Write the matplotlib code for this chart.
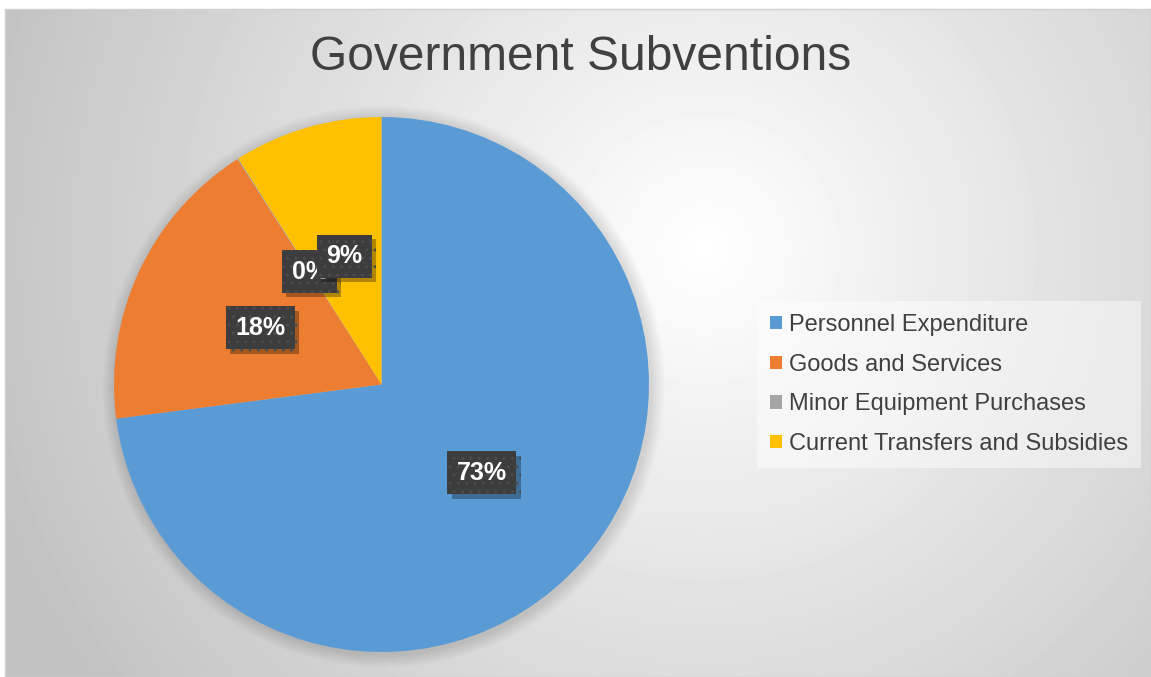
import numpy as np
import matplotlib
matplotlib.use("Agg")
import matplotlib.pyplot as plt
import matplotlib.patheffects as pe
from matplotlib.patches import Circle

plt.rcParams['font.family'] = ['Liberation Sans', 'DejaVu Sans']

# Datos del gráfico
categorias = ['Personnel Expenditure', 'Goods and Services',
              'Minor Equipment Purchases', 'Current Transfers and Subsidies']
valores = [73, 18, 0.05, 9]
colores = ['#5B9BD5', '#ED7D31', '#A5A5A5', '#FFC000']
titulo = 'Government Subventions'

W, H = 1151, 677
fig = plt.figure(figsize=(W / 100, H / 100), dpi=100)
fig.patch.set_facecolor('white')

# Fondo con degradado radial
bg = fig.add_axes([5 / W, 0, 1 - 5 / W, 1 - 9 / H])
yy, xx = np.mgrid[0:H - 9, 0:W - 5]
d = np.hypot(xx - 700, yy - 240)
g = np.clip(1.0 - 0.23 * d / 720, 0.76, 1.0)
bg.imshow(g, cmap='gray', vmin=0, vmax=1, aspect='auto', interpolation='bilinear')
bg.set_xticks([])
bg.set_yticks([])
for s in bg.spines.values():
    s.set_color('#d0d0d0')
    s.set_linewidth(1)

# Tarta
r_px = 267.5
cx, cy = 381.5, 384.5
ax = fig.add_axes([(cx - r_px) / W, (H - cy - r_px) / H, 2 * r_px / W, 2 * r_px / H])
ax.set_facecolor('none')

# Sombra suave alrededor de la tarta
for i in range(10):
    ax.add_patch(Circle((0.008, -0.008), 1.0 + 0.005 * (10 - i), color='black',
                        alpha=0.012, lw=0, zorder=0, clip_on=False))

wedges, textos, pcts = ax.pie(valores, colors=colores, startangle=90, counterclock=False,
                              autopct='%.0f%%', pctdistance=0.5, radius=1,
                              wedgeprops=dict(linewidth=0))
ax.set_xlim(-1, 1)
ax.set_ylim(-1, 1)
ax.set_aspect('auto')

for t in pcts:
    t.set_color('white')
    t.set_fontsize(18)
    t.set_fontweight('bold')
    t.set_bbox(dict(boxstyle='square,pad=0.38', facecolor='#3d3d3d', edgecolor='#4c4c4c',
                    hatch='..', linewidth=0))
    t.get_bbox_patch().set_path_effects([pe.SimplePatchShadow(offset=(3, -3), alpha=0.3,
                                                              shadow_rgbFace='black'),
                                         pe.Normal()])

# Título
fig.text(581 / W, 1 - 57 / H, titulo, ha='center', va='center', fontsize=34.5, color='#404040')

# Leyenda
leg = ax.legend(wedges, categorias, loc='center left',
                bbox_to_anchor=(757 / W, 1 - 384.5 / H), bbox_transform=fig.transFigure,
                fontsize=17, frameon=True, fancybox=False, handlelength=0.5,
                handleheight=0.5, handletextpad=0.3, labelspacing=0.75,
                borderpad=0.55, borderaxespad=0)
leg.get_frame().set_facecolor('white')
leg.get_frame().set_alpha(0.45)
leg.get_frame().set_linewidth(0)
for t in leg.get_texts():
    t.set_color('#404040')

fig.savefig('out.png', dpi=100)
